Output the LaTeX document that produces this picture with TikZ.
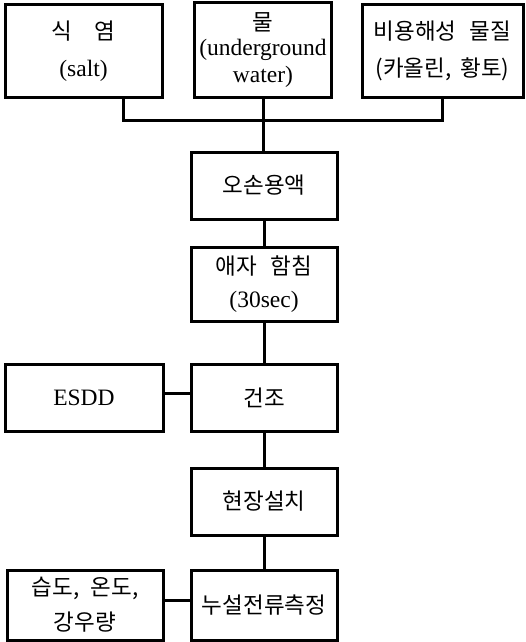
\documentclass[tikz,border=0pt]{standalone}
\usepackage{fontspec}
\setmainfont{Liberation Serif}
\newfontfamily\kr{Noto Sans CJK KR}
\newcommand{\K}[1]{{\kr\fontsize{22.5}{26}\selectfont #1}}
\begin{document}
\begin{tikzpicture}[x=1pt,y=-1pt,
  box/.style={draw, line width=3pt, align=center, inner sep=0pt,
    font=\fontsize{23.5}{27}\selectfont},
  conn/.style={line width=3pt}]
\useasboundingbox (0,0) rectangle (526,642);
\node[box, minimum width=157pt, minimum height=92pt] (salt) at (83.5,51)
  {\K{식\hspace{1em}염}\\[10pt](salt)};
\node[box, minimum width=137pt, minimum height=94pt] (water) at (263,50)
  {\K{물}\\[-2pt](underground\\water)};
\node[box, minimum width=161pt, minimum height=92pt] (clay) at (442.5,51)
  {\K{비용해성\hspace{0.6em}물질}\\[10pt]\K{(카올린,\hspace{0.4em}황토)}};
\node[box, minimum width=146pt, minimum height=67pt] (soil) at (264,185.5)
  {\K{오손용액}};
\node[box, minimum width=146pt, minimum height=74pt] (dip) at (264,284)
  {\K{애자\hspace{0.6em}함침}\\[6pt](30sec)};
\node[box, minimum width=146pt, minimum height=67pt] (dry) at (264,398)
  {\K{건조}};
\node[box, minimum width=158pt, minimum height=67pt] (esdd) at (84,398)
  {ESDD};
\node[box, minimum width=146pt, minimum height=67pt] (site) at (264,501.5)
  {\K{현장설치}};
\node[box, minimum width=146pt, minimum height=70pt] (leak) at (264,605)
  {\K{누설전류측정}};
\node[box, minimum width=156pt, minimum height=70pt] (env) at (85,605)
  {\K{습도,\hspace{0.5em}온도,}\\[8pt]\K{강우량}};
\coordinate (j) at (264,120);
\draw[conn] ([xshift=39.5pt]salt.south) |- (j);
\draw[conn] (clay.south) |- (j);
\draw[conn] (water.south) -- (water.south |- soil.north);
\draw[conn] (soil.south) -- (dip.north);
\draw[conn] (dip.south) -- (dry.north);
\draw[conn] (dry.south) -- (site.north);
\draw[conn] (site.south) -- (leak.north);
\draw[conn] ([yshift=5pt]esdd.east) -- ([yshift=5pt]dry.west);
\draw[conn] ([yshift=5pt]env.east) -- ([yshift=5pt]leak.west);
\end{tikzpicture}
\end{document}
